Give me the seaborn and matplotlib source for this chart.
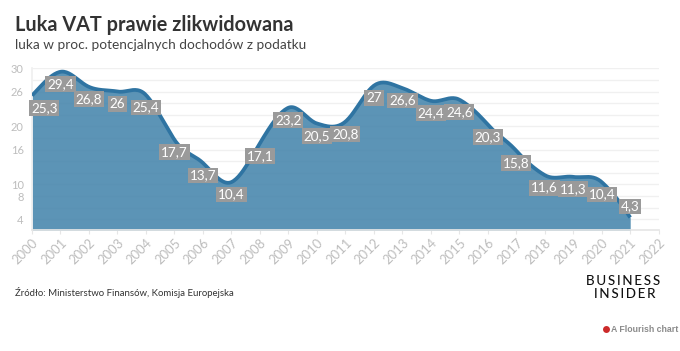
import numpy as np
import pandas as pd
import matplotlib
matplotlib.use('Agg')
import matplotlib.pyplot as plt
import seaborn as sns

# Data
years = [2000, 2001, 2002, 2003, 2004, 2005, 2006, 2007, 2008, 2009, 2010,
         2011, 2012, 2013, 2014, 2015, 2016, 2017, 2018, 2019, 2020, 2021]
luka = [25.3, 29.4, 26.8, 26, 25.4, 17.7, 13.7, 10.4, 17.1, 23.2, 20.5,
        20.8, 27, 26.6, 24.4, 24.6, 20.3, 15.8, 11.6, 11.3, 10.4, 4.3]
x_ticks = list(range(2000, 2023))
y_labels = [4, 8, 10, 16, 20, 26, 30]
y_grid = list(range(4, 31, 2))

sns.set_theme(style='white')
plt.rcParams['font.family'] = ['Lato', 'DejaVu Sans']

W, H = 680, 351
fig = plt.figure(figsize=(W / 100, H / 100), dpi=100)
left, right, top, bottom = 32, 658.7, 68.3, 230
ax = fig.add_axes([left / W, 1 - bottom / H, (right - left) / W, (bottom - top) / H])


# Rounded line through the yearly values, the way the original draws it
def smooth(xv, yv, k=1.25, n=24):
    xv, yv = np.array(xv, float), np.array(yv, float)
    m = np.gradient(yv) * k
    out_x, out_y = [], []
    for i in range(len(xv) - 1):
        t = np.linspace(0, 1, n, endpoint=False)
        out_x += list(xv[i] + t)
        out_y += list((2*t**3 - 3*t**2 + 1) * yv[i] + (t**3 - 2*t**2 + t) * m[i]
                      + (-2*t**3 + 3*t**2) * yv[i + 1] + (t**3 - t**2) * m[i + 1])
    out_x.append(xv[-1])
    out_y.append(yv[-1])
    return np.array(out_x), np.array(out_y)


cx, cy = smooth(years, luka)
curve = pd.DataFrame({'rok': cx, 'luka': cy})

for g in y_grid:
    ax.axhline(g, color='#f0f0f0', lw=1, zorder=1)

ax.fill_between(cx, 0, cy, color='#4a88ae', alpha=0.9, lw=0, zorder=2)
sns.lineplot(data=curve, x='rok', y='luka', color='#2f74a2', lw=2.7, ax=ax, zorder=3,
             solid_capstyle='butt')

ax.set_xlim(2000, 2022)
ax.set_ylim(2.15, 30)
ax.set_xlabel('')
ax.set_ylabel('')
ax.set_xticks(x_ticks)
ax.set_yticks(y_labels)
ax.set_xticklabels([str(y) for y in x_ticks], rotation=45, ha='right', rotation_mode='anchor',
                   fontsize=9.4, color='#bdbdbd')
ax.set_yticklabels([str(y) for y in y_labels], fontsize=8, color='#bdbdbd')
ax.tick_params(axis='x', length=3, width=0.8, color='#e6e6e6', pad=2, bottom=True)
ax.tick_params(axis='y', length=0, pad=6)
for name in ['top', 'right']:
    ax.spines[name].set_visible(False)
ax.spines['left'].set_color('#f0f0f0')
ax.spines['bottom'].set_color('#e6e6e6')

# Value labels sit under the line, the first one is pushed in and the last one goes above
for yr, val in zip(years, luka):
    dx, dy = 0, -9
    if yr == 2000:
        dx = 8.8
    if yr == 2021:
        dy = 8
    ax.annotate(str(val).replace('.', ','), (yr, val), xytext=(dx, dy), textcoords='offset points',
                ha='center', va='center', fontsize=9.7, color='white', zorder=5,
                bbox=dict(boxstyle='square,pad=0.14', fc='#9a9a9a', ec='none'))

fig.text(15 / W, 1 - 25 / H, 'Luka VAT prawie zlikwidowana', fontsize=14.3, fontweight='bold',
         color='#333333', va='center')
fig.text(15 / W, 1 - 45 / H, 'luka w proc. potencjalnych dochodów z podatku', fontsize=9.8,
         color='#444444', va='center')
fig.text(15 / W, 1 - 292 / H, 'Źródło: Ministerstwo Finansów, Komisja Europejska', fontsize=6.95,
         color='#333333', va='center')

hair = '\u200a\u200a'
fig.text(623.5 / W, 1 - 281 / H, hair.join('BUSINESS'), fontsize=9.6, fontweight='medium',
         color='#111111', ha='center', va='center')
fig.text(624.5 / W, 1 - 294.5 / H, hair.join('INSIDER'), fontsize=9.6, fontweight='medium',
         color='#111111', ha='center', va='center')

fig.text(611 / W, 1 - 329 / H, 'A Flourish chart', fontsize=6.3, fontweight='bold',
         family='Liberation Sans', color='#8a8a8a', va='center')
fig.add_artist(plt.Line2D([605.7 / W], [1 - 329 / H], marker='o', ms=5, color='#cc2a2a', mew=0))

fig.savefig('out.png', dpi=100, facecolor='white')
